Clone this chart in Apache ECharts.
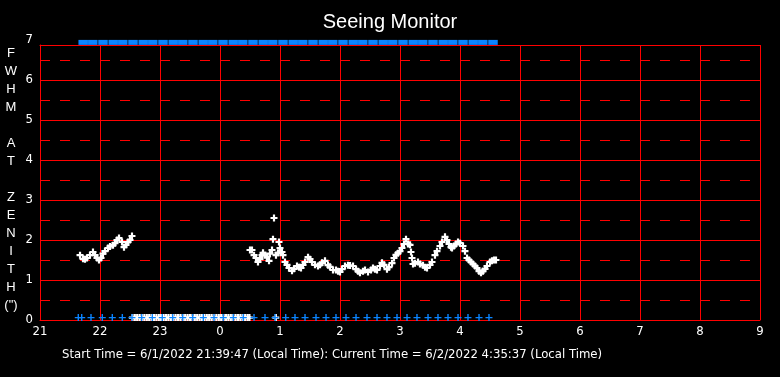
<!DOCTYPE html>
<html>
<head>
<meta charset="utf-8">
<script src="https://cdn.jsdelivr.net/npm/echarts@6/dist/echarts.min.js"></script>
<style>
  html, body { margin: 0; background: #000; }
  #chart { width: 780px; height: 377px; }
</style>
</head>
<body>
<div id="chart"></div>
<script>
// hours since midnight of 6/1 (24 = 0h on 6/2)
const hourTicks = [21, 22, 23, 24, 25, 26, 27, 28, 29, 30, 31, 32, 33];
const fwhmTicks = [0, 1, 2, 3, 4, 5, 6, 7];

// FWHM readings, [hour, arcsec]
const fwhmEvening = [
  [21.667, 1.62], [21.717, 1.53], [21.75, 1.52], [21.783, 1.55], [21.833, 1.62],
  [21.883, 1.70], [21.917, 1.62], [21.95, 1.55], [21.983, 1.50], [22.017, 1.55],
  [22.05, 1.66], [22.083, 1.72], [22.133, 1.80], [22.167, 1.84], [22.217, 1.87],
  [22.25, 1.92], [22.283, 2.00], [22.317, 2.05], [22.367, 1.95], [22.4, 1.82],
  [22.433, 1.88], [22.467, 1.95], [22.5, 2.00], [22.533, 2.10]
];
const fwhmNight = [
  [24.5, 1.75], [24.533, 1.75], [24.567, 1.62], [24.6, 1.55], [24.633, 1.45],
  [24.667, 1.52], [24.7, 1.62], [24.717, 1.68], [24.75, 1.62], [24.783, 1.58],
  [24.817, 1.48], [24.833, 1.66], [24.867, 1.75], [24.883, 2.02], [24.9, 2.55],
  [24.933, 1.62], [24.967, 1.68], [24.983, 1.95], [25.0, 1.80], [25.033, 1.70],
  [25.05, 1.62], [25.083, 1.45], [25.117, 1.38], [25.15, 1.30], [25.2, 1.23],
  [25.233, 1.28], [25.283, 1.35], [25.317, 1.32], [25.35, 1.30], [25.383, 1.38],
  [25.417, 1.45], [25.467, 1.57], [25.5, 1.52], [25.533, 1.45], [25.583, 1.38],
  [25.633, 1.35], [25.667, 1.38], [25.7, 1.43], [25.75, 1.48], [25.8, 1.37],
  [25.833, 1.33], [25.883, 1.25], [25.933, 1.25], [25.967, 1.22], [26.0, 1.20],
  [26.033, 1.27], [26.083, 1.35], [26.133, 1.37], [26.167, 1.36], [26.217, 1.35],
  [26.267, 1.27], [26.3, 1.22], [26.333, 1.18], [26.383, 1.22], [26.417, 1.25],
  [26.467, 1.20], [26.517, 1.25], [26.55, 1.30], [26.583, 1.27], [26.617, 1.25],
  [26.667, 1.35], [26.7, 1.43], [26.733, 1.38], [26.783, 1.27], [26.817, 1.32],
  [26.867, 1.42], [26.9, 1.55], [26.933, 1.63], [26.967, 1.67], [27.0, 1.72],
  [27.033, 1.80], [27.067, 1.90], [27.1, 2.02], [27.133, 1.90], [27.167, 1.88],
  [27.183, 1.70], [27.2, 1.55], [27.217, 1.40], [27.25, 1.42], [27.3, 1.45],
  [27.333, 1.40], [27.383, 1.37], [27.417, 1.32], [27.45, 1.30], [27.5, 1.38],
  [27.533, 1.45], [27.583, 1.62], [27.617, 1.72], [27.667, 1.85], [27.7, 1.95],
  [27.75, 2.08], [27.783, 2.00], [27.817, 1.90], [27.85, 1.82], [27.867, 1.80],
  [27.9, 1.85], [27.933, 1.90], [27.967, 1.95], [28.0, 1.92], [28.05, 1.85],
  [28.083, 1.72], [28.117, 1.55], [28.15, 1.50], [28.183, 1.45], [28.217, 1.40],
  [28.25, 1.35], [28.283, 1.30], [28.317, 1.22], [28.35, 1.18], [28.383, 1.22],
  [28.417, 1.28], [28.45, 1.35], [28.5, 1.45], [28.533, 1.48], [28.567, 1.50],
  [28.6, 1.50]
];
// readings with no measurement (plotted at the floor)
const fwhmNone = [
  [22.54, 0.06], [22.58, 0.06], [22.62, 0.06], [22.66, 0.06], [22.70, 0.06],
  [22.74, 0.06], [22.78, 0.06], [22.82, 0.06], [22.86, 0.06], [22.90, 0.06],
  [22.94, 0.06], [22.98, 0.06], [23.02, 0.06], [23.06, 0.06], [23.10, 0.06],
  [23.14, 0.06], [23.18, 0.06], [23.22, 0.06], [23.26, 0.06], [23.30, 0.06],
  [23.34, 0.06], [23.38, 0.06], [23.42, 0.06], [23.46, 0.06], [23.50, 0.06],
  [23.54, 0.06], [23.58, 0.06], [23.62, 0.06], [23.66, 0.06], [23.70, 0.06],
  [23.74, 0.06], [23.78, 0.06], [23.82, 0.06], [23.86, 0.06], [23.90, 0.06],
  [23.94, 0.06], [23.98, 0.06], [24.02, 0.06], [24.06, 0.06], [24.10, 0.06],
  [24.14, 0.06], [24.18, 0.06], [24.22, 0.06], [24.26, 0.06], [24.30, 0.06],
  [24.34, 0.06], [24.38, 0.06], [24.42, 0.06], [24.46, 0.06], [24.49, 0.06],
  [24.93, 0.06]
];
// blue status marks along the floor
const floorMarks = [
  [21.638, 0.06], [21.695, 0.06], [21.85, 0.06], [22.038, 0.06], [22.205, 0.06],
  [22.372, 0.06], [22.533, 0.06], [22.695, 0.06], [22.872, 0.06], [23.038, 0.06],
  [23.212, 0.06], [23.378, 0.06], [23.545, 0.06], [23.722, 0.06], [23.9, 0.06],
  [24.055, 0.06], [24.222, 0.06], [24.388, 0.06], [24.567, 0.06], [24.75, 0.06],
  [24.917, 0.06], [25.095, 0.06], [25.25, 0.06], [25.417, 0.06], [25.6, 0.06],
  [25.767, 0.06], [25.933, 0.06], [26.1, 0.06], [26.267, 0.06], [26.45, 0.06],
  [26.617, 0.06], [26.783, 0.06], [26.95, 0.06], [27.117, 0.06], [27.283, 0.06],
  [27.467, 0.06], [27.633, 0.06], [27.8, 0.06], [27.967, 0.06], [28.133, 0.06],
  [28.317, 0.06], [28.483, 0.06]
];
// blue status marks along the top
const topMarks = [
  [21.72, 6.94], [21.88, 6.94], [22.05, 6.94], [22.22, 6.94], [22.38, 6.94],
  [22.55, 6.94], [22.72, 6.94], [22.88, 6.94], [23.05, 6.94], [23.22, 6.94],
  [23.38, 6.94], [23.55, 6.94], [23.72, 6.94], [23.88, 6.94], [24.05, 6.94],
  [24.22, 6.94], [24.38, 6.94], [24.55, 6.94], [24.72, 6.94], [24.88, 6.94],
  [25.05, 6.94], [25.22, 6.94], [25.38, 6.94], [25.55, 6.94], [25.72, 6.94],
  [25.88, 6.94], [26.05, 6.94], [26.22, 6.94], [26.38, 6.94], [26.55, 6.94],
  [26.72, 6.94], [26.88, 6.94], [27.05, 6.94], [27.22, 6.94], [27.38, 6.94],
  [27.55, 6.94], [27.72, 6.94], [27.88, 6.94], [28.05, 6.94], [28.22, 6.94],
  [28.38, 6.94], [28.55, 6.94]
];

const red = "#ff0000";
const blue = "#0a84ff";
const narrow = "'Liberation Sans Narrow', 'Arial Narrow', 'DejaVu Sans Condensed', sans-serif";
const plus = "path://M2.8,0H4.2V2.8H7V4.2H4.2V7H2.8V4.2H0V2.8H2.8Z";
const boldPlus = "path://M2.4,0H4.6V2.4H7V4.6H4.6V7H2.4V4.6H0V2.4H2.4Z";

const chart = echarts.init(document.getElementById("chart"));
chart.setOption({
  backgroundColor: "#000",
  animation: false,
  title: {
    text: "Seeing Monitor",
    left: "center",
    top: 7,
    textStyle: { color: "#fff", fontFamily: "'Liberation Sans', Arial, sans-serif", fontWeight: "normal", fontSize: 20 },
  },
  grid: [
    { left: 40, right: 20, top: 45, bottom: 57 },
    { left: 40, right: 20, top: 40, bottom: 57 },
  ],
  xAxis: [
    {
      gridIndex: 0,
      type: "value",
      min: hourTicks[0],
      max: hourTicks[hourTicks.length - 1],
      interval: 1,
      axisLine: { show: true, onZero: false, lineStyle: { color: red } },
      axisTick: { show: false },
      axisLabel: { color: "#fff", fontFamily: narrow, fontSize: 13, margin: 5, formatter: (v) => String(v % 24) },
      splitLine: { show: true, lineStyle: { color: red, width: 1 } },
    },
    {
      gridIndex: 1,
      type: "value",
      min: hourTicks[0],
      max: hourTicks[hourTicks.length - 1],
      show: false,
    },
    {
      gridIndex: 0,
      type: "value",
      position: "top",
      min: hourTicks[0],
      max: hourTicks[hourTicks.length - 1],
      axisLine: { show: true, onZero: false, lineStyle: { color: red } },
      axisTick: { show: false },
      axisLabel: { show: false },
      splitLine: { show: false },
    },
  ],
  yAxis: [
    {
      gridIndex: 0,
      type: "value",
      min: 0,
      max: 6.875,
      interval: 1,
      axisLine: { show: true, onZero: false, lineStyle: { color: red } },
      axisTick: { show: false },
      axisLabel: { show: false },
      splitLine: { show: true, lineStyle: { color: red, width: 1 } },
    },
    {
      gridIndex: 1,
      type: "value",
      min: fwhmTicks[0],
      max: fwhmTicks[fwhmTicks.length - 1],
      interval: 1,
      axisLine: { show: false },
      axisTick: { show: false },
      splitLine: { show: false },
      axisLabel: { color: "#fff", fontFamily: narrow, fontSize: 13, margin: 7 },
    },
    {
      gridIndex: 0,
      type: "value",
      min: 0,
      max: 6.875,
      interval: 0.5,
      axisLine: { show: false },
      axisTick: { show: false },
      axisLabel: { show: false },
      splitLine: { show: true, showMaxLine: false, showMinLine: false, lineStyle: { color: red, width: 1, type: [10, 10] } },
    },
  ],
  graphic: [
    {
      type: "text",
      x: 11,
      y: 44,
      style: {
        text: 'F\nW\nH\nM\n \nA\nT\n \nZ\nE\nN\nI\nT\nH\n(")',
        fill: "#fff",
        font: "13px 'Liberation Sans', Arial, sans-serif",
        lineHeight: 18,
        align: "center",
        verticalAlign: "top",
      },
    },
    {
      type: "text",
      x: 62,
      y: 355,
      style: {
        text: "Start Time = 6/1/2022 21:39:47 (Local Time): Current Time = 6/2/2022 4:35:37 (Local Time)",
        fill: "#fff",
        font: "13px " + narrow,
        align: "left",
        verticalAlign: "middle",
      },
    },
  ],
  series: [
    {
      name: "FWHM",
      type: "scatter",
      xAxisIndex: 0,
      yAxisIndex: 0,
      clip: false,
      symbol: boldPlus,
      symbolSize: 7,
      itemStyle: { color: "#fff", opacity: 1 },
      data: fwhmEvening.concat(fwhmNight, fwhmNone),
      z: 3,
    },
    {
      name: "floor",
      type: "scatter",
      xAxisIndex: 0,
      yAxisIndex: 0,
      clip: false,
      symbol: plus,
      symbolSize: 7,
      itemStyle: { color: blue, opacity: 1 },
      data: floorMarks,
      z: 4,
    },
    {
      name: "top",
      type: "scatter",
      xAxisIndex: 1,
      yAxisIndex: 1,
      clip: false,
      symbol: "rect",
      symbolSize: [9.5, 5],
      itemStyle: { color: blue, opacity: 1 },
      data: topMarks,
      z: 4,
    },
  ],
});
</script>
</body>
</html>
